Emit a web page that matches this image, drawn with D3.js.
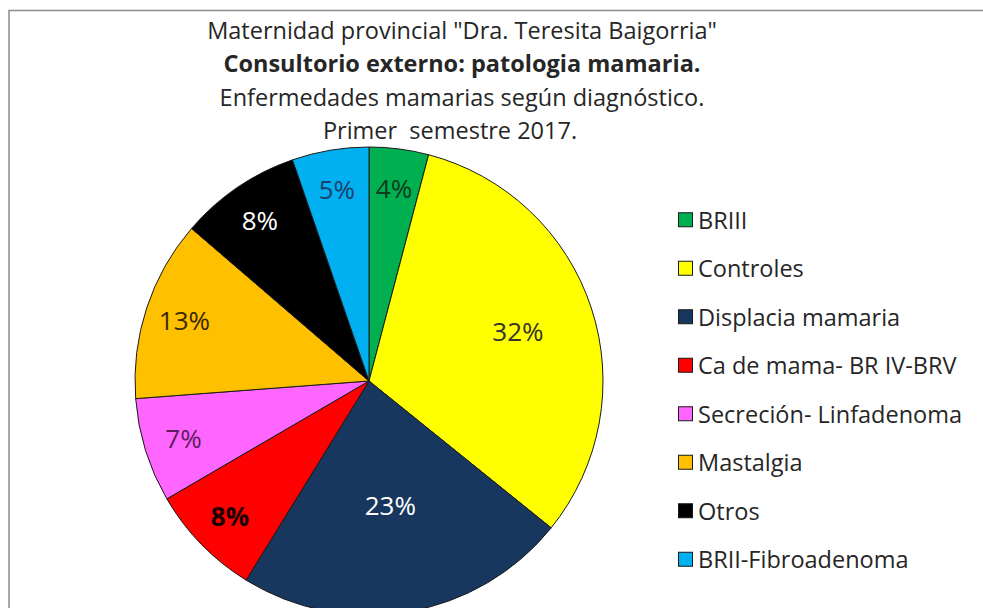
<!DOCTYPE html>
<html>
<head>
<meta charset="utf-8">
<script src="https://cdn.jsdelivr.net/npm/d3@7"></script>
<style>
  body { margin: 0; background: #fff; }
  svg { display: block; font-family: "Open Sans", sans-serif; }
</style>
</head>
<body>
<svg id="chart" width="983" height="608"></svg>
<script>
// chart data
const categories = [
  "BRIII",
  "Controles",
  "Displacia mamaria",
  "Ca de mama- BR IV-BRV",
  "Secreción- Linfadenoma",
  "Mastalgia",
  "Otros",
  "BRII-Fibroadenoma"
];
const shares = [4.1, 31.7, 23.0, 7.8, 7.2, 12.5, 8.4, 5.3];
const sliceColors = ["#00b050", "#ffff00", "#17375e", "#ff0000", "#ff66ff", "#ffc000", "#000000", "#00b0f0"];
const labelColors = ["#0d3b1c", "#333333", "#ffffff", "#1a0000", "#5c1d5c", "#3a2a00", "#ffffff", "#1f3f6a"];
const titleLines = [
  'Maternidad provincial "Dra. Teresita Baigorria"',
  "Consultorio externo: patologia mamaria.",
  "Enfermedades mamarias según diagnóstico.",
  "Primer  semestre 2017."
];

const svg = d3.select("#chart");

// outer frame (only top and left edges visible)
svg.append("path")
  .attr("d", "M9,608 V10.5 H983")
  .attr("fill", "none")
  .attr("stroke", "#8c8c8c")
  .attr("stroke-width", 1.5);

// TITLE
svg.selectAll(".title")
  .data(titleLines)
  .join("text")
  .attr("class", "title")
  .attr("x", (d, i) => (i === 3 ? 450 : 462))
  .attr("y", (d, i) => 39 + i * 33.3)
  .attr("text-anchor", "middle")
  .attr("fill", "#262626")
  .style("white-space", "pre")
  .style("font-size", "23.5px")
  .style("font-weight", (d, i) => (i === 1 ? 700 : 400))
  .text(d => d);

// PIE
const cx = 369, cy = 381, r = 234;
const data = categories.map((c, i) => ({ name: c, value: shares[i], i }));

const pie = d3.pie().value(d => d.value).sort(null);
const arc = d3.arc().innerRadius(0).outerRadius(r);
const arcs = pie(data);

const g = svg.append("g").attr("transform", `translate(${cx},${cy})`);

g.selectAll("path")
  .data(arcs)
  .join("path")
  .attr("d", arc)
  .attr("fill", d => sliceColors[d.data.i])
  .attr("stroke", "#1a1a1a")
  .attr("stroke-width", 1);

// label radius: big slices get labels closer to the center
const labelRadius = d => (d.data.value > 30 ? r * 0.67 : d.data.value > 20 ? r * 0.54 : r * 0.83);

g.selectAll(".pct")
  .data(arcs)
  .join("text")
  .attr("class", "pct")
  .attr("transform", d => {
    const lr = labelRadius(d);
    const c = d3.arc().innerRadius(lr).outerRadius(lr).centroid(d);
    return `translate(${c[0]},${c[1]})`;
  })
  .attr("text-anchor", "middle")
  .attr("dy", "0.36em")
  .attr("fill", d => labelColors[d.data.i])
  .style("font-size", "26px")
  .style("font-weight", d => (d.data.i === 3 ? 700 : 400))
  .text(d => `${Math.round(d.data.value)}%`);

// LEGEND
const legendY = d3.scaleBand()
  .domain(categories)
  .range([196, 584]);

const legend = svg.selectAll(".legend")
  .data(categories)
  .join("g")
  .attr("class", "legend")
  .attr("transform", d => `translate(678,${legendY(d) + legendY.bandwidth() / 2})`);

legend.append("rect")
  .attr("x", 0.5)
  .attr("y", -7.5)
  .attr("width", 14)
  .attr("height", 14)
  .attr("fill", (d, i) => sliceColors[i])
  .attr("stroke", "#1a1a1a")
  .attr("stroke-width", 1);

legend.append("text")
  .attr("x", 20)
  .attr("dy", "0.36em")
  .attr("fill", "#262626")
  .style("font-size", "23.5px")
  .text(d => d);
</script>
</body>
</html>
